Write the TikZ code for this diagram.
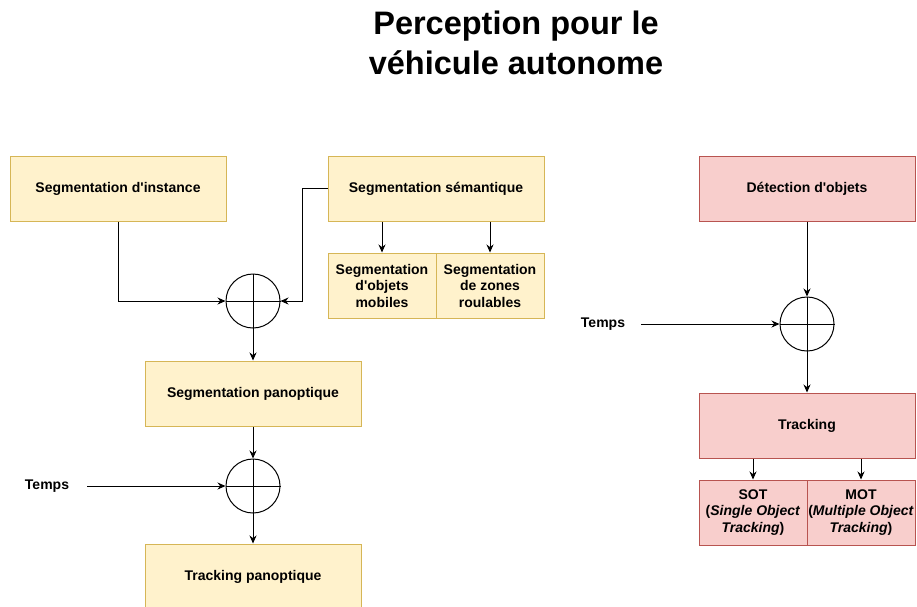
\documentclass[tikz,border=0pt]{standalone}
\usepackage{fontspec}
\setmainfont{Liberation Sans}
\usetikzlibrary{arrows.meta}
\newcommand{\qq}{\textquotesingle}
\tikzset{
  yel/.style={draw=yellowstroke, fill=yellowfill, line width=1pt, font=\bfseries\fontsize{14}{16.5}\selectfont, align=center, inner sep=0pt},
  red/.style={draw=redstroke, fill=redfill, line width=1pt, font=\bfseries\fontsize{14}{16.5}\selectfont, align=center, inner sep=0pt},
  plusc/.style={draw=black, circle, line width=1pt, minimum size=54pt, inner sep=0pt,
     append after command={
       (\tikzlastnode.north) edge[line width=1pt,-] (\tikzlastnode.south)
       (\tikzlastnode.west) edge[line width=1pt,-] (\tikzlastnode.east)}},
  conn/.style={line width=1pt, -{Stealth[length=8pt,width=7pt]}},
  lbl/.style={font=\bfseries\fontsize{14}{16}\selectfont, inner sep=0pt}
}
\definecolor{yellowfill}{HTML}{FFF2CC}
\definecolor{yellowstroke}{HTML}{D6B656}
\definecolor{redfill}{HTML}{F8CECC}
\definecolor{redstroke}{HTML}{B85450}
\begin{document}
\begin{tikzpicture}[x=1pt,y=-1pt]
\useasboundingbox (0,0) rectangle (917,606);
% title
\node[font=\bfseries\fontsize{32.5}{40}\selectfont, align=center, inner sep=0pt] (title) at (516,43) {Perception pour le\\véhicule autonome};
% left part
\node[yel, minimum width=216pt, minimum height=65pt] (inst) at (118,188.5) {Segmentation d\qq instance};
\node[yel, minimum width=216pt, minimum height=65pt] (sem) at (436,188.5) {Segmentation sémantique};
\node[yel, minimum width=108pt, minimum height=65pt] (mob) at (382,285.5) {Segmentation\\d\qq objets\\mobiles};
\node[yel, minimum width=108pt, minimum height=65pt] (zon) at (490,285.5) {Segmentation\\de zones\\roulables};
\node[plusc] (c1) at (253,301) {};
\node[yel, minimum width=216pt, minimum height=65pt] (pan) at (253,393.5) {Segmentation panoptique};
\node[plusc] (c2) at (253,486) {};
\node[lbl] (t1) at (47,486) {Temps};
\node[yel, minimum width=216pt, minimum height=65pt] (trp) at (253,576.5) {Tracking panoptique};
\coordinate (t1s) at (87,486);
\draw[conn] (inst.south) |- (c1.west);
\draw[conn] (sem.west) -- (302,188.5) |- (c1.east);
\draw[conn] (sem.south -| mob.north) -- (mob.north);
\draw[conn] (sem.south -| zon.north) -- (zon.north);
\draw[conn] (c1.south) -- (pan.north);
\draw[conn] (pan.south) -- (c2.north);
\draw[conn] (t1s) -- (c2.west);
\draw[conn] (c2.south) -- (trp.north);
% right part
\node[red, minimum width=216pt, minimum height=65pt] (det) at (807,188.5) {Détection d\qq objets};
\node[plusc] (c3) at (807,324) {};
\node[lbl] (t2) at (603,324) {Temps};
\coordinate (t2s) at (641,324);
\node[red, minimum width=216pt, minimum height=65pt] (trk) at (807,425.5) {Tracking};
\node[red, minimum width=108pt, minimum height=65pt] (sot) at (753,512.5) {SOT\\(\textit{Single Object}\\\textit{Tracking})};
\node[red, minimum width=108pt, minimum height=65pt] (mot) at (861,512.5) {MOT\\(\textit{Multiple Object}\\\textit{Tracking})};
\draw[conn] (det.south) -- (c3.north);
\draw[conn] (t2s) -- (c3.west);
\draw[conn] (c3.south) -- (trk.north);
\draw[conn] (trk.south -| sot.north) -- (sot.north);
\draw[conn] (trk.south -| mot.north) -- (mot.north);
\end{tikzpicture}
\end{document}
